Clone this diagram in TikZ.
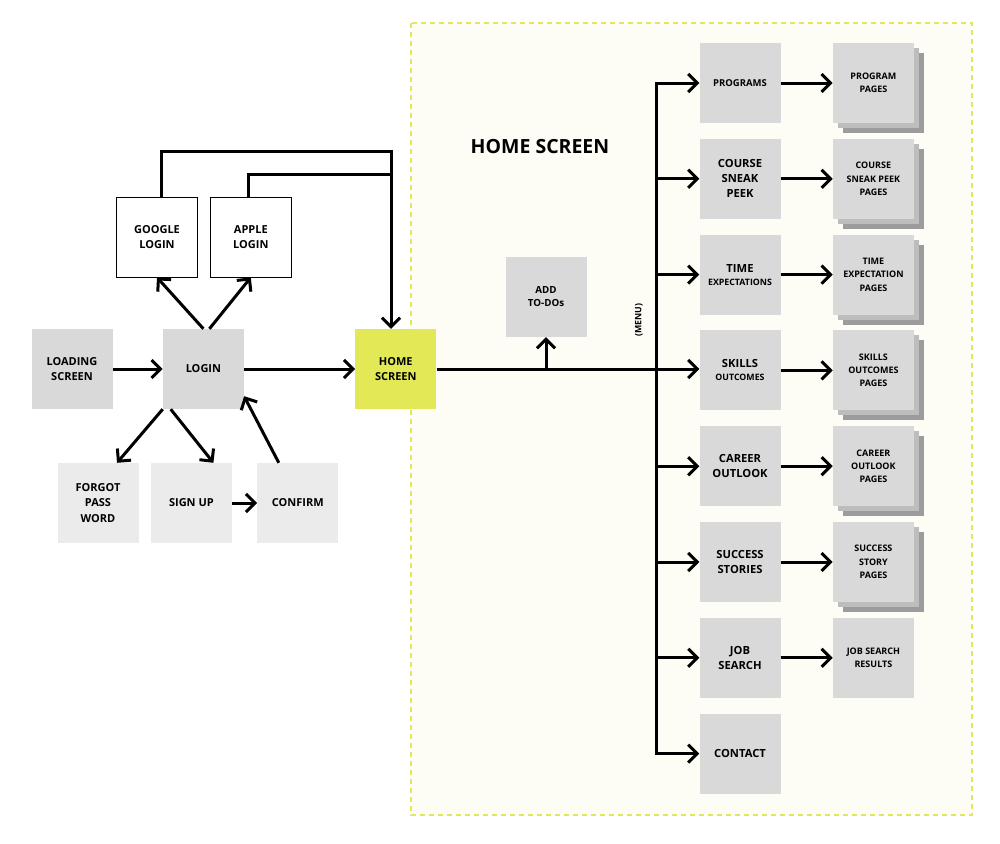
\documentclass[tikz,border=0pt]{standalone}
\usepackage{fontspec}
\setmainfont{Open Sans}
\usetikzlibrary{arrows.meta,positioning,shadows}
\definecolor{boxgray}{HTML}{D9D9D9}
\definecolor{boxlight}{HTML}{EBEBEB}
\definecolor{lime}{HTML}{E2E856}
\definecolor{frame}{HTML}{E1E75E}
\definecolor{paper}{HTML}{FDFDF6}
\definecolor{stackmid}{HTML}{BDBDBD}
\definecolor{stackdark}{HTML}{9C9C9C}
\newcommand{\smtxt}{\fontsize{8.8}{12}\selectfont}

\begin{document}
\begin{tikzpicture}[x=1pt, y=-1pt,
  node distance=15.4pt and 52pt,
  box/.style={fill=boxgray, minimum width=81pt, minimum height=80pt, inner sep=2pt,
              align=center, font=\bfseries\fontsize{11}{15.5}\selectfont},
  soft/.style={box, fill=boxlight},
  plain/.style={box, fill=white, draw, line width=0.8pt},
  item/.style={box, font=\bfseries\fontsize{11.2}{15}\selectfont},
  pages/.style={box, font=\bfseries\fontsize{9}{13.3}\selectfont,
                general shadow={shadow xshift=10pt, shadow yshift=-10pt, fill=stackdark},
                general shadow={shadow xshift=5pt, shadow yshift=-5pt, fill=stackmid}},
  line/.style={line width=3pt},
  arr/.style={line, -{Straight Barb[length=9pt, width=18pt]}}
]
\useasboundingbox (0,0) rectangle (1000,843);
% home screen area
\draw[frame, line width=2pt, dash pattern=on 5pt off 4pt, fill=paper] (411,23) rectangle (972,815);
\node[font=\bfseries\fontsize{19.5}{22}\selectfont] (title) at (540,147) {HOME SCREEN};
\node[rotate=90, font=\bfseries\fontsize{8.8}{10}\selectfont] (menu) at (639,320) {(MENU)};

% login flow
\node[box] (loading) at (72,369) {LOADING\\SCREEN};
\node[box, right=50pt of loading] (login) {LOGIN};
\node[box, fill=lime, right=111pt of login] (home) {HOME\\SCREEN};
\node[plain] (google) at (157,237) {GOOGLE\\LOGIN};
\node[plain, right=12pt of google] (apple) {APPLE\\LOGIN};
\node[soft] (forgot) at (98,503) {FORGOT\\PASS\\WORD};
\node[soft, right=12pt of forgot] (signup) {SIGN UP};
\node[soft, right=25pt of signup] (confirm) {CONFIRM};
\node[box, font=\bfseries\fontsize{9.8}{13}\selectfont] (todo) at (546,297) {ADD\\TO-DOs};

% menu items
\node[item, font=\bfseries\fontsize{9.5}{13}\selectfont] (prog) at (740,83) {PROGRAMS};
\node[item, below=of prog] (course) {COURSE\\SNEAK\\PEEK};
\node[item, below=of course] (time) {TIME\\[-2pt]{\smtxt EXPECTATIONS}};
\node[item, below=of time] (skills) {SKILLS\\[-2pt]{\smtxt OUTCOMES}};
\node[item, below=of skills] (career) {CAREER\\OUTLOOK};
\node[item, below=of career] (success) {SUCCESS\\STORIES};
\node[item, below=of success] (job) {JOB\\SEARCH};
\node[item, below=of job] (contact) {CONTACT};

% sub pages
\node[pages, right=of prog] (progp) {PROGRAM\\PAGES};
\node[pages, right=of course] (coursep) {COURSE\\SNEAK PEEK\\PAGES};
\node[pages, right=of time] (timep) {TIME\\EXPECTATION\\PAGES};
\node[pages, right=of skills] (skillsp) {SKILLS\\OUTCOMES\\PAGES};
\node[pages, right=of career] (careerp) {CAREER\\OUTLOOK\\PAGES};
\node[pages, right=of success] (successp) {SUCCESS\\STORY\\PAGES};
\node[box, font=\bfseries\fontsize{9}{13.3}\selectfont, right=of job] (jobp) {JOB SEARCH\\RESULTS};

% connectors
\draw[arr] (loading) -- (login);
\draw[arr] (login) -- (home);
\draw[arr] (signup) -- (confirm);
\draw[arr] (login.north) -- (google.south);
\draw[arr] ([xshift=6pt]login.north) -- (apple.south);
\draw[arr] (login.south west) -- ([xshift=19pt]forgot.north);
\draw[arr] ([xshift=8pt]login.south west) -- ([xshift=22pt]signup.north);
\draw[arr] ([xshift=-19pt]confirm.north) -- ([yshift=13pt]login.south east);

\coordinate (top) at (391,151);
\coordinate (merge) at (391,174);
\draw[arr] ([xshift=4pt]google.north) |- (top) -- (top |- home.north);
\draw[line] ([xshift=-2pt]apple.north) |- (merge);

\draw[arr] (home.east) -- (home.east -| skills.west);
\draw[arr] (todo.south |- home.east) -- (todo.south);

\coordinate (bus) at (656,83);
\draw[line, line cap=rect] (bus) -- (bus |- contact.west);
\draw[arr] (bus) -- (prog.west);
\draw[arr] (bus |- course.west) -- (course.west);
\draw[arr] (bus |- time.west) -- (time.west);
\draw[arr] (bus |- career.west) -- (career.west);
\draw[arr] (bus |- success.west) -- (success.west);
\draw[arr] (bus |- job.west) -- (job.west);
\draw[arr] (bus |- contact.west) -- (contact.west);

\draw[arr] (prog) -- (progp);
\draw[arr] (course) -- (coursep);
\draw[arr] (time) -- (timep);
\draw[arr] (skills) -- (skillsp);
\draw[arr] (career) -- (careerp);
\draw[arr] (success) -- (successp);
\draw[arr] (job) -- (jobp);
\end{tikzpicture}
\end{document}
